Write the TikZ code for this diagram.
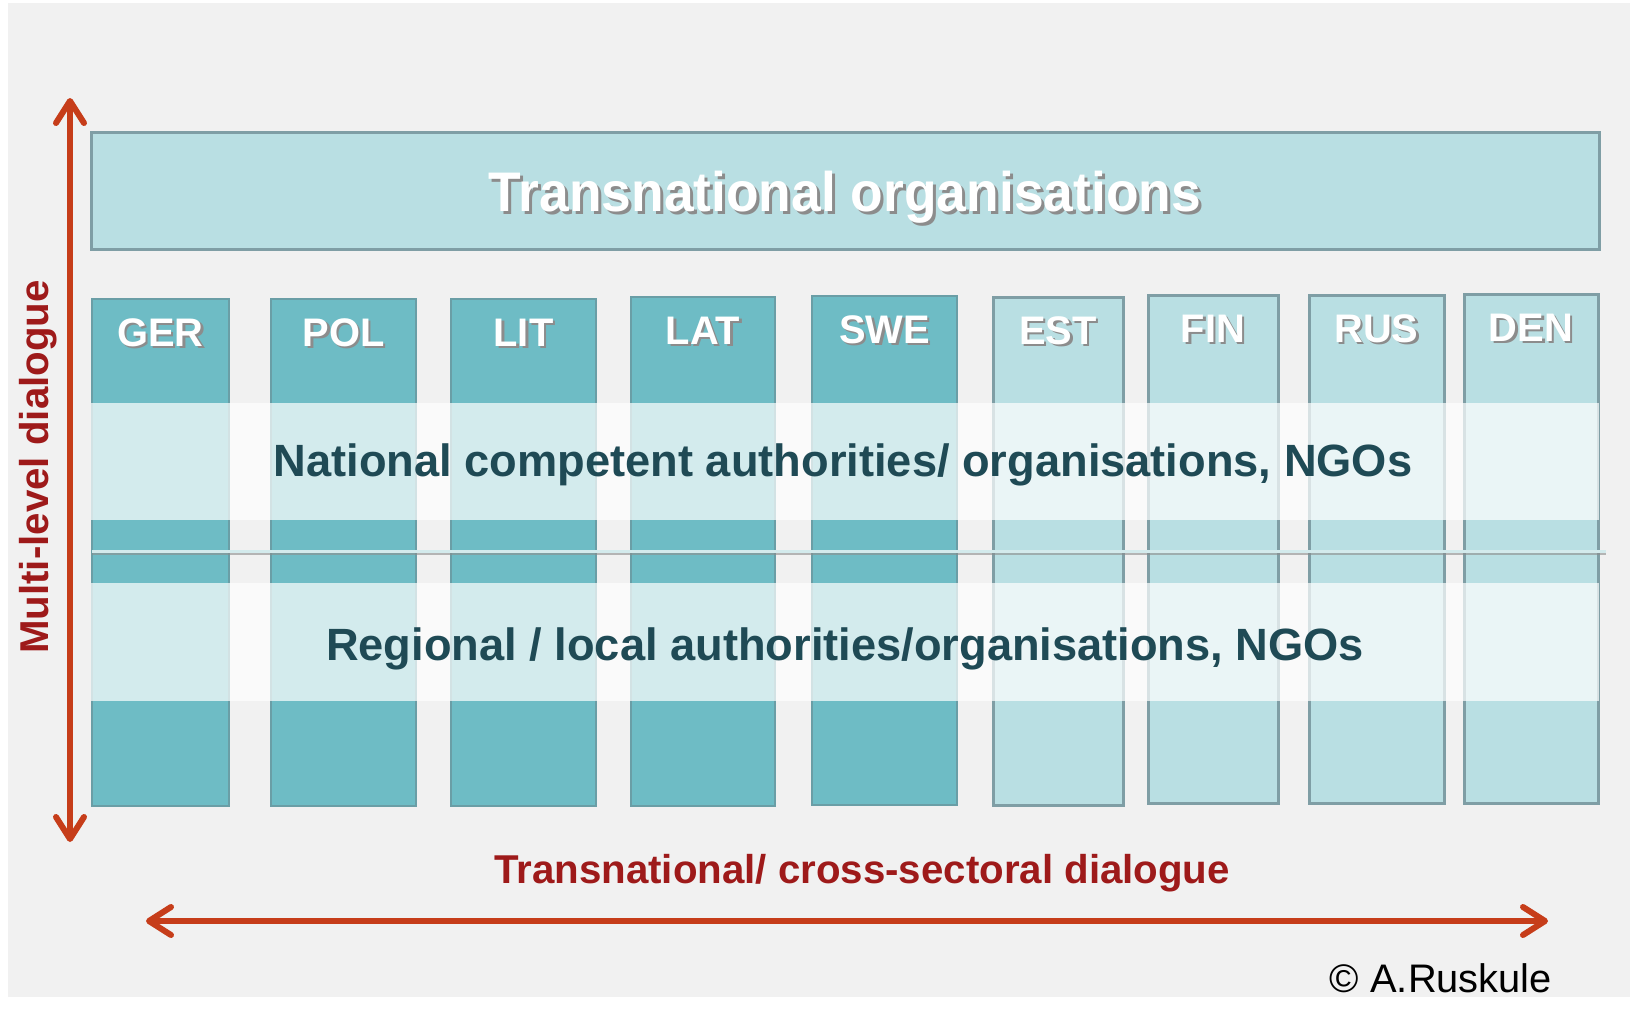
\documentclass[tikz,border=0pt]{standalone}
\usepackage{fontspec}
\usepackage{graphicx}
\setmainfont{Liberation Sans}
\usetikzlibrary{arrows.meta,fit}
\definecolor{bgc}{HTML}{F1F1F1}
\definecolor{darkteal}{HTML}{6EBCC5}
\definecolor{darkedge}{HTML}{6A9EA6}
\definecolor{lightteal}{HTML}{B9DFE3}
\definecolor{lightedge}{HTML}{7F9EA5}
\definecolor{slatetxt}{HTML}{1F4A55}
\definecolor{redtxt}{HTML}{9E1A1A}
\definecolor{arrowred}{HTML}{C63D1A}
\definecolor{sepcol}{HTML}{D3EAEC}
\tikzset{
  colbox/.style={inner sep=0pt, outer sep=0pt},
  darkcol/.style={colbox, fill=darkteal, draw=darkedge, line width=2bp},
  lightcol/.style={colbox, fill=lightteal, draw=lightedge, line width=3bp},
  topbox/.style={colbox, fill=lightteal, draw=lightedge, line width=3bp},
  toplabel/.style={font=\fontsize{40}{48}\selectfont\bfseries, text=white, inner sep=0pt},
  shadowlabel/.style={font=\fontsize{40}{48}\selectfont\bfseries, text=black!45, inner sep=0pt},
  titletext/.style={font=\fontsize{56}{66}\selectfont\bfseries, text=white, inner sep=0pt},
  titleshadow/.style={font=\fontsize{56}{66}\selectfont\bfseries, text=black!45, inner sep=0pt},
  band/.style={fill=white, fill opacity=0.7, draw=none, inner sep=0pt, outer sep=0pt},
  bandtext/.style={font=\fontsize{45.4}{54}\selectfont\bfseries, text=slatetxt, inner sep=0pt},
  redlabel/.style={font=\fontsize{40.4}{48}\selectfont\bfseries, text=redtxt, inner sep=0pt},
  copytext/.style={font=\fontsize{40}{48}\selectfont, text=black, inner sep=0pt},
  dialogarrow/.style={draw=arrowred, line width=6bp,
    {Straight Barb[length=22bp,width=28bp,round]}-{Straight Barb[length=22bp,width=28bp,round]}},
  sepline/.style={draw=sepcol, line width=3bp},
  sepshadow/.style={draw=black!45, line width=2.5bp, opacity=0.6}
}
\begin{document}
\begin{tikzpicture}[x=1bp,y=-1bp]
\useasboundingbox (0,0) rectangle (1630,1009);
\fill[white] (0,0) rectangle (1630,1009);
\fill[bgc] (8,3) rectangle (1630,997);

% top box
\node[topbox, fit={(91,132) (1599,249)}] (tbox) {};
\coordinate (tcent) at (845,197);
\node[titleshadow] (titlesh) at ([xshift=3bp,yshift=-3bp]tcent) {\scalebox{0.957}[1]{Transnational organisations}};
\node[titletext] (title) at (tcent) {\scalebox{0.957}[1]{Transnational organisations}};

% columns
\node[darkcol, fit={(92,299) (229,806)}] (ger) {};
\node[darkcol, fit={(271,299) (416,806)}] (pol) {};
\node[darkcol, fit={(451,299) (596,806)}] (lit) {};
\node[darkcol, fit={(631,297) (775,806)}] (lat) {};
\node[darkcol, fit={(812,296) (957,805)}] (swe) {};
\node[lightcol, fit={(993,297) (1123,805)}] (est) {};
\node[lightcol, fit={(1148,295) (1278,803)}] (fin) {};
\node[lightcol, fit={(1309,295) (1444,803)}] (rus) {};
\node[lightcol, fit={(1464,294) (1598,803)}] (den) {};

\foreach \n/\t in {ger/GER,pol/POL,lit/LIT,lat/LAT,swe/SWE,est/EST,fin/FIN,rus/RUS,den/DEN}{
  \node[shadowlabel, anchor=base] (\n-sh) at ([xshift=2.5bp,yshift=-49.5bp]\n.north) {\t};
  \node[toplabel, anchor=base] (\n-lab) at ([yshift=-47bp]\n.north) {\t};
}

% bands
\node[band, fit={(91,403) (1599,520)}] (natband) {};
\node[band, fit={(91,583) (1599,701)}] (regband) {};

% separator line
\coordinate (sepL) at (92,551);
\coordinate (sepR) at (1606,551);
\draw[sepshadow] ([yshift=-3bp]sepL) -- ([yshift=-3bp]sepR);
\draw[sepline] (sepL) -- (sepR);

\node[bandtext] (nattext) at (843,465) {National competent authorities/ organisations, NGOs};
\node[bandtext] (regtext) at (845,649) {Regional / local authorities/organisations, NGOs};

% arrows
\coordinate (vtop) at (70,98);
\coordinate (vbot) at (70,842);
\draw[dialogarrow] (vtop) -- (vbot);
\coordinate (hleft) at (146,921);
\coordinate (hright) at (1548,921);
\draw[dialogarrow] (hleft) -- (hright);

\node[redlabel, rotate=90] (mld) at (38,467) {Multi-level dialogue};
\node[redlabel] (tcs) at (862,873) {Transnational/ cross-sectoral dialogue};
\node[copytext] (copy) at (1441,978) {© A.Ruskule};
\end{tikzpicture}
\end{document}
